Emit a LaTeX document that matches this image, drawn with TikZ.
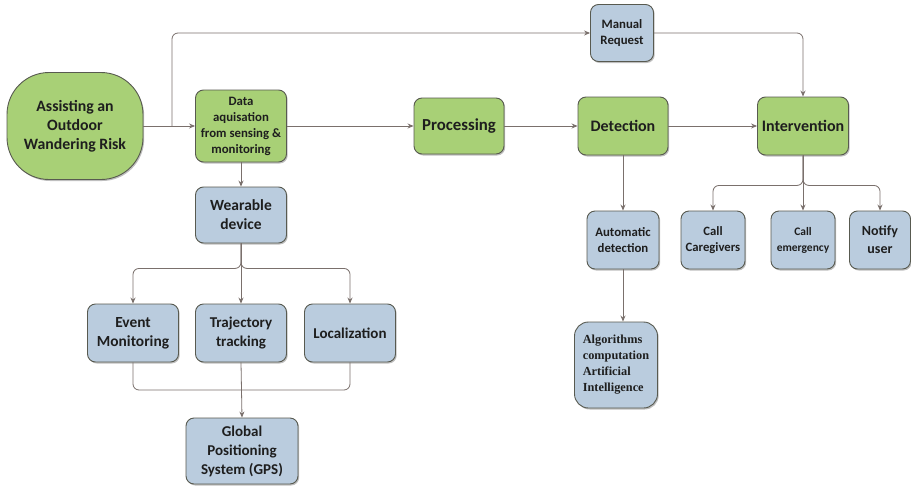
\documentclass[tikz,border=0pt]{standalone}
\usepackage{fontspec}
\setmainfont{Carlito}
\newfontfamily\algofont{Liberation Serif}
\usetikzlibrary{arrows.meta,shadows}

\definecolor{stagegreen}{RGB}{168,208,118}
\definecolor{subblue}{RGB}{186,204,222}
\definecolor{boxedge}{RGB}{88,90,80}
\definecolor{linkgray}{RGB}{122,112,108}
\definecolor{inktext}{RGB}{30,30,30}

\tikzset{
  box/.style={draw=boxedge, line width=0.9pt, rounded corners=8pt, align=center,
    inner sep=2pt, text=inktext, font=\bfseries,
    drop shadow={shadow xshift=1.2pt, shadow yshift=-1.5pt, fill=black, opacity=0.25}},
  stage/.style={box, fill=stagegreen},
  sub/.style={box, fill=subblue},
  conn/.style={draw=linkgray, line width=0.8pt},
  arr/.style={conn, -{Stealth[length=6pt,width=5pt]}},
}

\begin{document}
\begin{tikzpicture}[x=1pt,y=-1pt]
\useasboundingbox (0,0) rectangle (911,485);
\fill[white] (0,0) rectangle (911,485);

% main chain
\node[stage, rounded corners=42pt, minimum width=136pt, minimum height=107pt, font=\bfseries\fontsize{15.8}{19}\selectfont]
  (assist) at (75,126) {Assisting an\\Outdoor\\Wandering Risk};
\node[stage, minimum width=91pt, minimum height=72pt, font=\bfseries\fontsize{12.8}{16}\selectfont]
  (acq) at (241,126) {Data\\aquisation\\from sensing \&\\monitoring};
\node[stage, minimum width=90pt, minimum height=56pt, font=\bfseries\fontsize{16.8}{19}\selectfont]
  (proc) at (459,126) {Processing};
\node[stage, minimum width=90pt, minimum height=58pt, font=\bfseries\fontsize{16}{19}\selectfont]
  (detect) at (623,126) {Detection};
\node[stage, minimum width=91pt, minimum height=58pt, font=\bfseries\fontsize{16}{19}\selectfont]
  (interv) at (803,126) {Intervention};

% top request
\node[sub, minimum width=63pt, minimum height=57pt, font=\bfseries\fontsize{12.8}{16.5}\selectfont]
  (manual) at (622,33) {Manual\\Request};

% detection branch
\node[sub, minimum width=72pt, minimum height=58pt, font=\bfseries\fontsize{12.8}{16}\selectfont]
  (auto) at (623,240) {Automatic\\detection};
\node[sub, rounded corners=14pt, minimum width=83pt, minimum height=86pt, align=left,
      font=\algofont\bfseries\fontsize{12.3}{16}\selectfont]
  (algo) at (616,365) {Algorithms\\computation\\Artificial\\Intelligence};

% intervention branch
\node[sub, minimum width=64pt, minimum height=58pt, font=\bfseries\fontsize{12.7}{16}\selectfont]
  (care) at (713,240) {Call\\Caregivers};
\node[sub, minimum width=64pt, minimum height=58pt, font=\bfseries\fontsize{11.5}{16}\selectfont]
  (emerg) at (803,240) {Call\\emergency};
\node[sub, minimum width=61pt, minimum height=58pt, font=\bfseries\fontsize{14}{18}\selectfont]
  (notify) at (880,240) {Notify\\user};

% sensing branch
\node[sub, minimum width=91pt, minimum height=56pt, font=\bfseries\fontsize{15.5}{19}\selectfont]
  (wear) at (241,215) {Wearable\\device};
\node[sub, minimum width=91pt, minimum height=58pt, font=\bfseries\fontsize{15.4}{19}\selectfont]
  (event) at (133,333) {Event\\Monitoring};
\node[sub, minimum width=91pt, minimum height=58pt, font=\bfseries\fontsize{15}{19}\selectfont]
  (traj) at (241,333) {Trajectory\\tracking};
\node[sub, minimum width=91pt, minimum height=58pt, font=\bfseries\fontsize{15}{19}\selectfont]
  (loc) at (350,333) {Localization};
\node[sub, minimum width=112pt, minimum height=66pt, font=\bfseries\fontsize{15}{19}\selectfont]
  (gps) at (242,451) {Global\\Positioning\\System (GPS)};

% junction points
\coordinate (split) at (172,126);
\coordinate (merge) at (241,390);

% connectors along the main chain
\draw[arr] (assist.east) -- (acq.west);
\draw[arr] (acq.east) -- (proc.west);
\draw[arr] (proc.east) -- (detect.west);
\draw[arr] (detect.east) -- (interv.west);

% manual request path
\draw[arr, rounded corners=6pt] (split) |- (manual.west);
\draw[arr, rounded corners=6pt] (manual.east) -| (interv.north);

% detection to automatic detection to algorithms
\draw[arr] (detect.south) -- (auto.north);
\draw[arr] (auto.south) -- (auto.south |- algo.north);

% intervention fan-out
\draw[arr, rounded corners=6pt] (interv.south) -- ++(0,30) -| (care.north);
\draw[arr, rounded corners=6pt] (interv.south) -- ++(0,30) -| (notify.north);
\draw[arr] (interv.south) -- (emerg.north);

% sensing fan-out
\draw[arr] (acq.south) -- (wear.north);
\draw[arr, rounded corners=6pt] (wear.south) -- ++(0,25) -| (event.north);
\draw[arr, rounded corners=6pt] (wear.south) -- ++(0,25) -| (loc.north);
\draw[arr] (wear.south) -- (traj.north);

% merge into GPS
\draw[conn, rounded corners=6pt] (event.south) |- (merge);
\draw[conn, rounded corners=6pt] (loc.south) |- (merge);
\draw[arr] (traj.south) -- (gps.north);
\end{tikzpicture}
\end{document}
